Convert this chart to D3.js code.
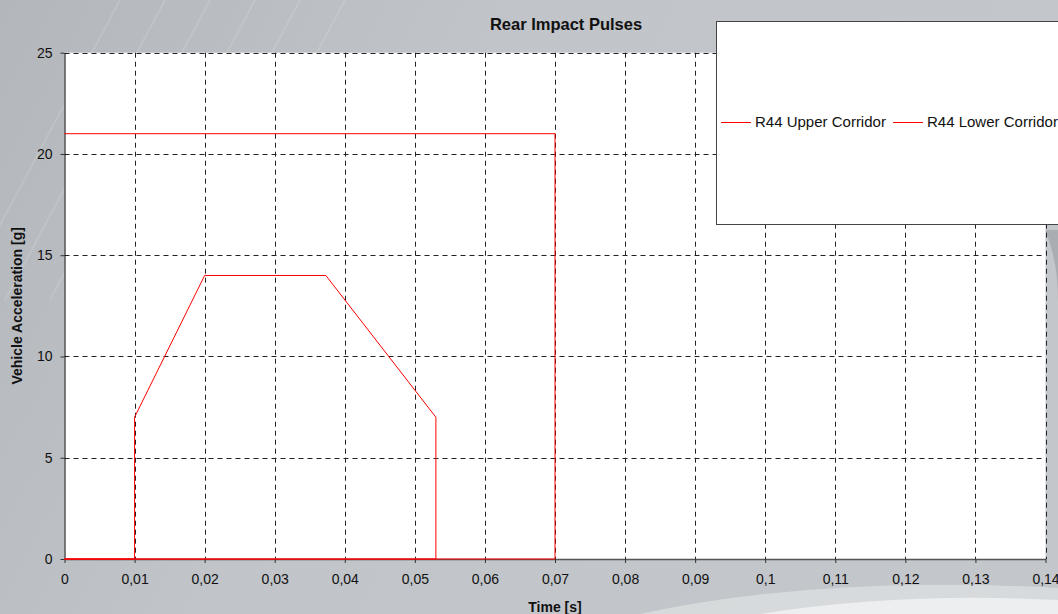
<!DOCTYPE html>
<html>
<head>
<meta charset="utf-8">
<script src="https://cdn.jsdelivr.net/npm/d3@7"></script>
<style>
  body { margin: 0; background: #c0c3c7; }
  text { font-family: "Liberation Sans", Arial, sans-serif; fill: #111; }
</style>
</head>
<body>
<div id="chart"></div>
<script>
// series data [time s, accel g]
const upperCorridor = [[0, 21], [0.07, 21], [0.07, 0], [0, 0]];
const lowerCorridor = [[0, 0], [0.01, 0], [0.01, 7], [0.02, 14], [0.0373, 14], [0.053, 7], [0.053, 0], [0, 0]];
const seriesNames = ["R44 Upper Corridor", "R44 Lower Corridor"];
const xTicks = [0, 0.01, 0.02, 0.03, 0.04, 0.05, 0.06, 0.07, 0.08, 0.09, 0.1, 0.11, 0.12, 0.13, 0.14];
const yTicks = [0, 5, 10, 15, 20, 25];

const W = 1058, H = 614;
const margin = { left: 64.5, right: 12.5, top: 52.7, bottom: 55 };

let svg = d3.select("#chart").append("svg")
  .attr("width", W).attr("height", H);

// background
let defs = svg.append("defs");
let bg = defs.append("linearGradient").attr("id", "bg")
  .attr("x1", 0).attr("y1", 0).attr("x2", 1).attr("y2", 0.3);
bg.append("stop").attr("offset", 0).attr("stop-color", "#b3b6bb");
bg.append("stop").attr("offset", 0.45).attr("stop-color", "#c1c4c8");
bg.append("stop").attr("offset", 1).attr("stop-color", "#c3c6ca");
svg.append("rect").attr("width", W).attr("height", H).attr("fill", "url(#bg)");

// faint diagonal streaks at the top left
for (let i = 0; i < 6; i++) {
  svg.append("line")
    .attr("x1", -40 + i * 45).attr("y1", 300)
    .attr("x2", 120 + i * 45).attr("y2", 0)
    .attr("stroke", "#ffffff").attr("stroke-opacity", 0.12).attr("stroke-width", 2);
}
// swoosh at the bottom right
svg.append("path")
  .attr("d", "M 640 614 Q 820 575 1058 588 L 1058 614 Z")
  .attr("fill", "#dcdee0").attr("opacity", 0.8);
svg.append("path")
  .attr("d", "M 760 614 Q 900 592 1058 600 L 1058 614 Z")
  .attr("fill", "#f0f0f1").attr("opacity", 0.9);
svg.append("path")
  .attr("d", "M 1045 230 Q 1058 260 1058 300 L 1058 230 Z")
  .attr("fill", "#9fa3a8").attr("opacity", 0.7);

let x = d3.scaleLinear().domain([0, 0.14]).range([margin.left, W - margin.right]);
let y = d3.scaleLinear().domain([0, 25]).range([H - margin.bottom, margin.top]);

// plot area
svg.append("rect")
  .attr("x", x(0)).attr("y", y(25))
  .attr("width", x(0.14) - x(0)).attr("height", y(0) - y(25))
  .attr("fill", "#ffffff");

// grid
let grid = svg.append("g").attr("stroke", "#222").attr("stroke-dasharray", "5,4").attr("stroke-width", 1);
xTicks.slice(1).forEach(t => {
  grid.append("line")
    .attr("x1", Math.round(x(t)) + 0.5).attr("x2", Math.round(x(t)) + 0.5)
    .attr("y1", y(25)).attr("y2", y(0));
});
yTicks.slice(1).forEach(t => {
  grid.append("line")
    .attr("x1", x(0)).attr("x2", x(0.14))
    .attr("y1", Math.round(y(t)) + 0.5).attr("y2", Math.round(y(t)) + 0.5);
});

// axes
let fmt = d => d3.format("")(d).replace(".", ",");
let xAxis = svg.append("g")
  .attr("transform", "translate(0," + y(0) + ")")
  .call(d3.axisBottom(x).tickValues(xTicks).tickFormat(fmt).tickSizeInner(4).tickSizeOuter(0).tickPadding(11));
let yAxis = svg.append("g")
  .attr("transform", "translate(" + x(0) + ",0)")
  .call(d3.axisLeft(y).tickValues(yTicks).tickSizeInner(4).tickSizeOuter(0).tickPadding(8));
[xAxis, yAxis].forEach(a => {
  a.selectAll("text").attr("font-size", 14).attr("font-family", "Liberation Sans, Arial, sans-serif").attr("fill", "#111");
  a.selectAll("line").attr("stroke", "#333");
});
xAxis.select(".domain").attr("stroke", "#555").attr("stroke-width", 1.5);
yAxis.select(".domain").attr("stroke", "#000");

// series
let line = d3.line().x(d => x(d[0])).y(d => y(d[1]));
[upperCorridor, lowerCorridor].forEach(s => {
  svg.append("path").datum(s)
    .attr("d", line)
    .attr("fill", "none")
    .attr("stroke", "#ff0000")
    .attr("stroke-width", 1);
});

// title and axis labels
svg.append("text").attr("x", 566).attr("y", 29.5)
  .attr("text-anchor", "middle").attr("font-size", 16.5).attr("font-weight", "bold")
  .text("Rear Impact Pulses");
svg.append("text").attr("x", 555).attr("y", 612)
  .attr("text-anchor", "middle").attr("font-size", 14).attr("font-weight", "bold")
  .text("Time [s]");
svg.append("text")
  .attr("transform", "translate(22," + y(12.5) + ") rotate(-90)")
  .attr("text-anchor", "middle").attr("font-size", 14).attr("font-weight", "bold")
  .text("Vehicle Acceleration [g]");

// legend
let legend = svg.append("g");
legend.append("rect")
  .attr("x", 716.5).attr("y", 21.5).attr("width", 360).attr("height", 203)
  .attr("fill", "#ffffff").attr("stroke", "#444").attr("stroke-width", 1);
let legendX = [721, 893];
seriesNames.forEach((n, i) => {
  legend.append("line")
    .attr("x1", legendX[i]).attr("x2", legendX[i] + 30)
    .attr("y1", 122.5).attr("y2", 122.5)
    .attr("stroke", "#ff0000");
  legend.append("text")
    .attr("x", legendX[i] + 34).attr("y", 127)
    .attr("font-size", 15)
    .text(n);
});
</script>
</body>
</html>
